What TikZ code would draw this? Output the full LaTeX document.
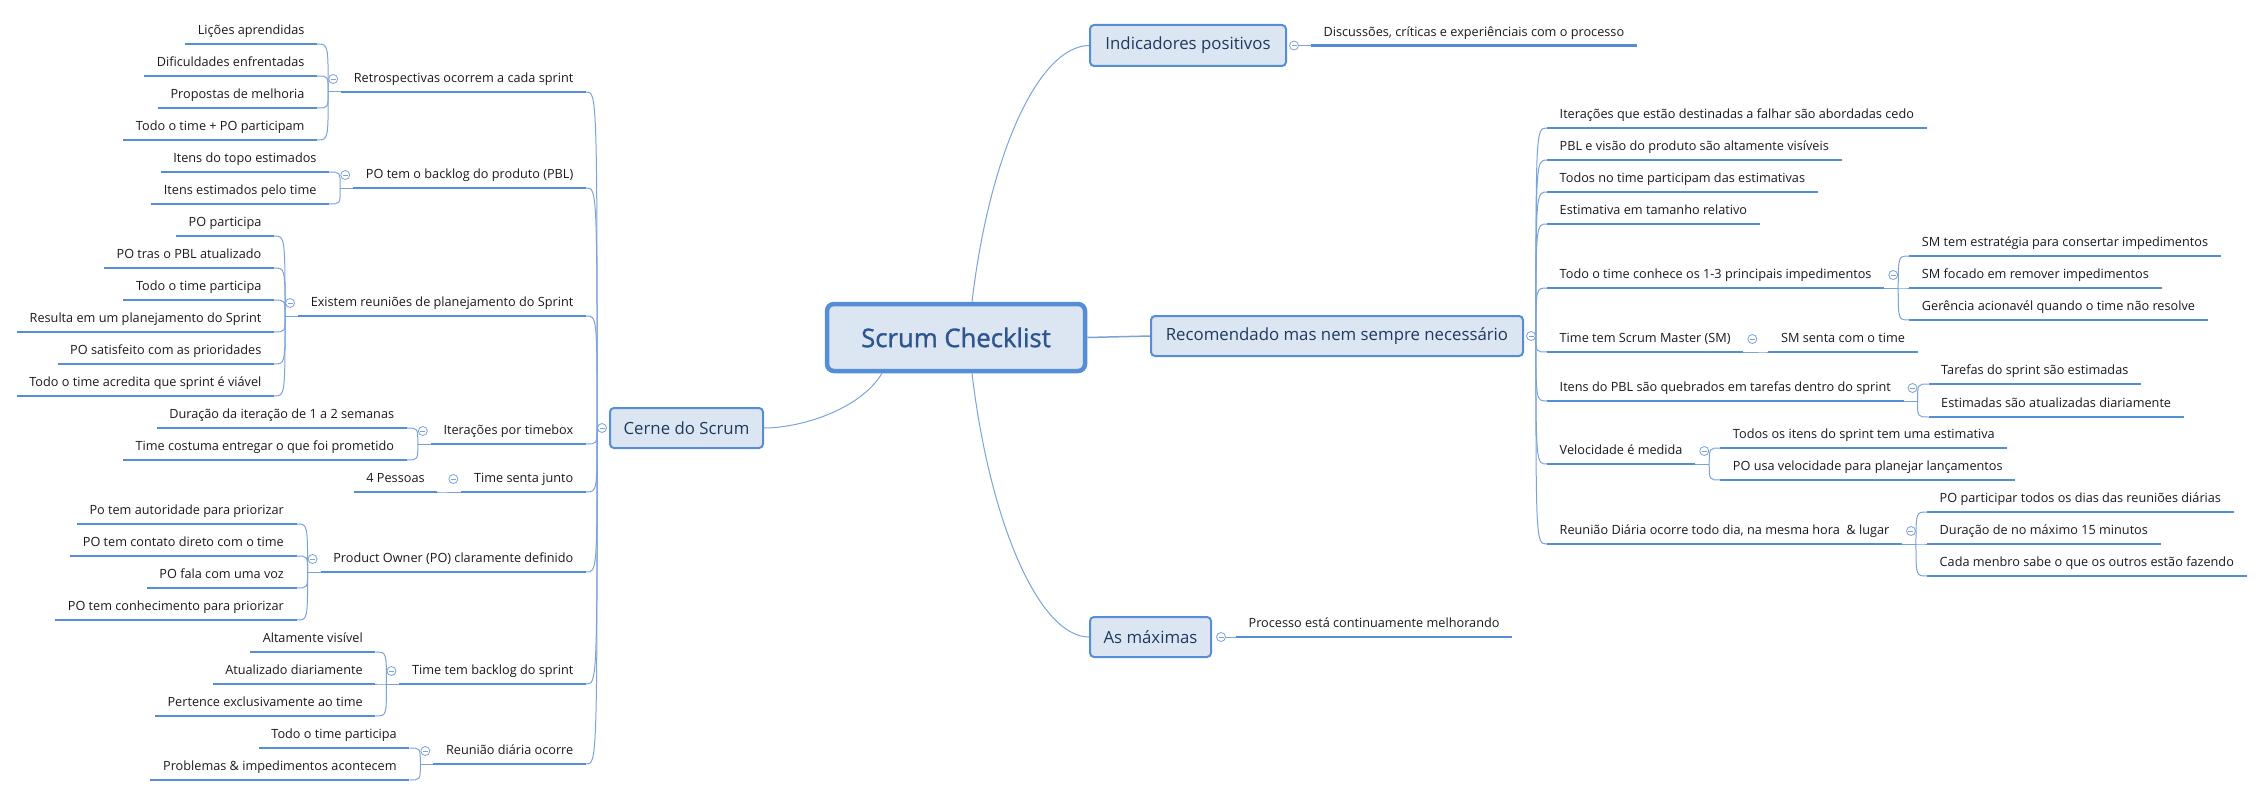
\documentclass[tikz,border=0pt]{standalone}
\usepackage{fontspec}
\setmainfont{Open Sans}
\newfontfamily\rootfamily[FakeBold=1.2]{Open Sans}
\usepackage{tikz}

\definecolor{mapblue}{HTML}{558ED5}
\definecolor{linkblue}{HTML}{7AA3DA}
\definecolor{topicfill}{HTML}{DCE6F2}
\definecolor{topicink}{HTML}{1F3A5F}
\definecolor{rootink}{HTML}{2D558F}
\definecolor{leafink}{HTML}{1A1A1A}

\newcommand{\leaffont}{\fontsize{12.7}{15}\selectfont}
\newcommand{\topicfont}{\fontsize{16.8}{20}\selectfont}
\newcommand{\rootfont}{\rootfamily\fontsize{25.7}{30}\selectfont}

\tikzset{
  uline/.style={draw=mapblue, line width=2.8pt},
  link/.style={draw=linkblue, line width=1pt},
  leaf/.style={font=\leaffont, text=leafink, inner xsep=12.5pt, inner ysep=0pt,
    text height=10pt, text depth=9pt,
    append after command={(\tikzlastnode.south west) edge[uline] (\tikzlastnode.south east)}},
  topic/.style={draw=mapblue, fill=topicfill, line width=2pt, rounded corners=4pt,
    font=\topicfont, text=topicink, minimum height=40pt},
  root/.style={draw=mapblue, fill=topicfill, line width=4.5pt, rounded corners=7pt,
    font=\rootfont, text=rootink, minimum width=258pt, minimum height=67pt},
  fold/.style={circle, draw=linkblue, fill=white, line width=0.8pt, minimum size=9pt, inner sep=0pt,
    path picture={\draw[linkblue, line width=0.8pt] ([xshift=-2.5pt]path picture bounding box.center)
      -- ([xshift=2.5pt]path picture bounding box.center);}},
}

\begin{document}
\begin{tikzpicture}[x=1pt, y=-1pt]
  \useasboundingbox (0,0) rectangle (2260,797);

  % Central topic and the four main branches
  \node[root] (root) at (956,337.5) {Scrum Checklist};
  \node[topic, minimum width=153pt] (cerne) at (686.5,428) {Cerne do Scrum};
  \node[topic, minimum width=196pt, minimum height=41pt] (indic) at (1188,45.5) {Indicadores positivos};
  \node[topic, minimum width=372pt] (recom) at (1337,336) {Recomendado mas nem sempre necessário};
  \node[topic, minimum width=121pt] (maximas) at (1150.5,637) {As máximas};

  \draw[link] ([xshift=16pt]root.north) .. controls (990,150) and (1040,46) .. (indic.west);
  \draw[link] ([xshift=16pt]root.south) .. controls (990,525) and (1040,637) .. (maximas.west);
  \draw[link] ([xshift=-74pt]root.south) .. controls (860,410) and (800,428) .. (cerne.east);
  \draw[link, line width=1.5pt] (root.east) -- (recom.west);

  % Cerne do Scrum: the branches on the left
  \node[fold] (cernefold) at ([xshift=-7pt]cerne.west) {};

  \node[leaf, anchor=south east] (retro) at (586,92) {Retrospectivas ocorrem a cada sprint};
  \coordinate (retroJ) at ([xshift=-13pt]retro.south west);
  \node[fold] (retrofold) at ([xshift=5pt,yshift=13pt]retroJ) {};
  \node[leaf, anchor=south east] (licoes) at ([xshift=-11pt,yshift=48pt]retroJ) {Lições aprendidas};
  \node[leaf, anchor=south east] (dific) at ([xshift=-11pt,yshift=16pt]retroJ) {Dificuldades enfrentadas};
  \node[leaf, anchor=south east] (propostas) at ([xshift=-11pt,yshift=-16pt]retroJ) {Propostas de melhoria};
  \node[leaf, anchor=south east] (todoPO) at ([xshift=-11pt,yshift=-48pt]retroJ) {Todo o time + PO participam};

  \node[leaf, anchor=south east] (pbl) at (586,188) {PO tem o backlog do produto (PBL)};
  \coordinate (pblJ) at ([xshift=-13pt]pbl.south west);
  \node[fold] (pblfold) at ([xshift=5pt,yshift=13pt]pblJ) {};
  \node[leaf, anchor=south east] (topo) at ([xshift=-11pt,yshift=16pt]pblJ) {Itens do topo estimados};
  \node[leaf, anchor=south east] (pelotime) at ([xshift=-11pt,yshift=-16pt]pblJ) {Itens estimados pelo time};

  \node[leaf, anchor=south east] (planej) at (586,316) {Existem reuniões de planejamento do Sprint};
  \coordinate (planejJ) at ([xshift=-13pt]planej.south west);
  \node[fold] (planejfold) at ([xshift=5pt,yshift=13pt]planejJ) {};
  \node[leaf, anchor=south east] (poPart) at ([xshift=-11pt,yshift=80pt]planejJ) {PO participa};
  \node[leaf, anchor=south east] (poTras) at ([xshift=-11pt,yshift=48pt]planejJ) {PO tras o PBL atualizado};
  \node[leaf, anchor=south east] (todoPart) at ([xshift=-11pt,yshift=16pt]planejJ) {Todo o time participa};
  \node[leaf, anchor=south east] (resulta) at ([xshift=-11pt,yshift=-16pt]planejJ) {Resulta em um planejamento do Sprint};
  \node[leaf, anchor=south east] (poSatisf) at ([xshift=-11pt,yshift=-48pt]planejJ) {PO satisfeito com as prioridades};
  \node[leaf, anchor=south east] (acredita) at ([xshift=-11pt,yshift=-80pt]planejJ) {Todo o time acredita que sprint é viável};

  \node[leaf, anchor=south east] (timebox) at (586,444) {Iterações por timebox};
  \coordinate (timeboxJ) at ([xshift=-13pt]timebox.south west);
  \node[fold] (timeboxfold) at ([xshift=5pt,yshift=13pt]timeboxJ) {};
  \node[leaf, anchor=south east] (duracao) at ([xshift=-11pt,yshift=16pt]timeboxJ) {Duração da iteração de 1 a 2 semanas};
  \node[leaf, anchor=south east] (costuma) at ([xshift=-11pt,yshift=-16pt]timeboxJ) {Time costuma entregar o que foi prometido};

  \node[leaf, anchor=south east] (junto) at (586,492) {Time senta junto};
  \coordinate (juntoJ) at ([xshift=-13pt]junto.south west);
  \node[fold] (juntofold) at ([xshift=5pt,yshift=13pt]juntoJ) {};
  \node[leaf, anchor=south east] (pessoas) at ([xshift=-11pt]juntoJ) {4 Pessoas};

  \node[leaf, anchor=south east] (owner) at (586,572) {Product Owner (PO) claramente definido};
  \coordinate (ownerJ) at ([xshift=-13pt]owner.south west);
  \node[fold] (ownerfold) at ([xshift=5pt,yshift=13pt]ownerJ) {};
  \node[leaf, anchor=south east] (autoridade) at ([xshift=-11pt,yshift=48pt]ownerJ) {Po tem autoridade para priorizar};
  \node[leaf, anchor=south east] (contato) at ([xshift=-11pt,yshift=16pt]ownerJ) {PO tem contato direto com o time};
  \node[leaf, anchor=south east] (voz) at ([xshift=-11pt,yshift=-16pt]ownerJ) {PO fala com uma voz};
  \node[leaf, anchor=south east] (conhec) at ([xshift=-11pt,yshift=-48pt]ownerJ) {PO tem conhecimento para priorizar};

  \node[leaf, anchor=south east] (sbacklog) at (586,684) {Time tem backlog do sprint};
  \coordinate (sbacklogJ) at ([xshift=-13pt]sbacklog.south west);
  \node[fold] (sbacklogfold) at ([xshift=5pt,yshift=13pt]sbacklogJ) {};
  \node[leaf, anchor=south east] (visivel) at ([xshift=-11pt,yshift=32pt]sbacklogJ) {Altamente visível};
  \node[leaf, anchor=south east] (atualiz) at ([xshift=-11pt]sbacklogJ) {Atualizado diariamente};
  \node[leaf, anchor=south east] (pertence) at ([xshift=-11pt,yshift=-32pt]sbacklogJ) {Pertence exclusivamente ao time};

  \node[leaf, anchor=south east] (daily) at (586,764) {Reunião diária ocorre};
  \coordinate (dailyJ) at ([xshift=-13pt]daily.south west);
  \node[fold] (dailyfold) at ([xshift=5pt,yshift=13pt]dailyJ) {};
  \node[leaf, anchor=south east] (dailyTodo) at ([xshift=-11pt,yshift=16pt]dailyJ) {Todo o time participa};
  \node[leaf, anchor=south east] (problemas) at ([xshift=-11pt,yshift=-16pt]dailyJ) {Problemas \& impedimentos acontecem};

  \foreach \p in {retro,pbl,planej,timebox,junto,owner,sbacklog,daily}
    \draw[link] (cernefold.west) .. controls (cernefold.west |- \p.south east) .. (\p.south east);
  \foreach \p/\c in {retro/licoes,retro/dific,retro/propostas,retro/todoPO,pbl/topo,pbl/pelotime,
      planej/poPart,planej/poTras,planej/todoPart,planej/resulta,planej/poSatisf,planej/acredita,
      timebox/duracao,timebox/costuma,junto/pessoas,owner/autoridade,owner/contato,owner/voz,owner/conhec,
      sbacklog/visivel,sbacklog/atualiz,sbacklog/pertence,daily/dailyTodo,daily/problemas}
    \draw[link] (\p J) .. controls (\p J |- \c.south east) .. (\c.south east);
  \foreach \p in {retro,pbl,planej,timebox,junto,owner,sbacklog,daily}
    \draw[link] (\p J) -- (\p.south west);

  % Indicadores positivos
  \node[fold] (indicfold) at ([xshift=7pt]indic.east) {};
  \node[leaf, anchor=south west] (discuss) at ([xshift=12pt]indicfold.east) {Discussões, críticas e experiênciais com o processo};
  \draw[link] (indicfold.east) -- (discuss.south west);

  % Recomendado mas nem sempre necessario
  \node[fold] (recomfold) at ([xshift=7pt]recom.east) {};
  \node[leaf, anchor=south west] (falhar) at (1547,128) {Iterações que estão destinadas a falhar são abordadas cedo};
  \node[leaf, anchor=south west] (visiveis) at (1547,160) {PBL e visão do produto são altamente visíveis};
  \node[leaf, anchor=south west] (estimativas) at (1547,192) {Todos no time participam das estimativas};
  \node[leaf, anchor=south west] (relativo) at (1547,224) {Estimativa em tamanho relativo};
  \node[leaf, anchor=south west] (impedim) at (1547,288) {Todo o time conhece os 1-3 principais impedimentos};
  \node[leaf, anchor=south west] (master) at (1547,352) {Time tem Scrum Master (SM)};
  \node[leaf, anchor=south west] (quebrados) at (1547,401) {Itens do PBL são quebrados em tarefas dentro do sprint};
  \node[leaf, anchor=south west] (veloc) at (1547,464) {Velocidade é medida};
  \node[leaf, anchor=south west] (diaria) at (1547,544) {Reunião Diária ocorre todo dia, na mesma hora\ \ \& lugar};

  \foreach \c in {falhar,visiveis,estimativas,relativo,impedim,master,quebrados,veloc,diaria}
    \draw[link] (recomfold.east) .. controls (recomfold.east |- \c.south west) .. (\c.south west);

  \coordinate (impedimJ) at ([xshift=14pt]impedim.south east);
  \node[fold] (impedimfold) at ([xshift=-5pt,yshift=13pt]impedimJ) {};
  \node[leaf, anchor=south west] (estrategia) at ([xshift=11pt,yshift=32pt]impedimJ) {SM tem estratégia para consertar impedimentos};
  \node[leaf, anchor=south west] (focado) at ([xshift=11pt]impedimJ) {SM focado em remover impedimentos};
  \node[leaf, anchor=south west] (gerencia) at ([xshift=11pt,yshift=-32pt]impedimJ) {Gerência acionavél quando o time não resolve};

  \coordinate (masterJ) at ([xshift=14pt]master.south east);
  \node[fold] (masterfold) at ([xshift=-5pt,yshift=13pt]masterJ) {};
  \node[leaf, anchor=south west] (senta) at ([xshift=11pt]masterJ) {SM senta com o time};

  \coordinate (quebradosJ) at ([xshift=14pt]quebrados.south east);
  \node[fold] (quebradosfold) at ([xshift=-5pt,yshift=13pt]quebradosJ) {};
  \node[leaf, anchor=south west] (tarefas) at ([xshift=11pt,yshift=17pt]quebradosJ) {Tarefas do sprint são estimadas};
  \node[leaf, anchor=south west] (atualizadas) at ([xshift=11pt,yshift=-16pt]quebradosJ) {Estimadas são atualizadas diariamente};

  \coordinate (velocJ) at ([xshift=14pt]veloc.south east);
  \node[fold] (velocfold) at ([xshift=-5pt,yshift=13pt]velocJ) {};
  \node[leaf, anchor=south west] (todosItens) at ([xshift=11pt,yshift=16pt]velocJ) {Todos os itens do sprint tem uma estimativa};
  \node[leaf, anchor=south west] (usaVeloc) at ([xshift=11pt,yshift=-16pt]velocJ) {PO usa velocidade para planejar lançamentos};

  \coordinate (diariaJ) at ([xshift=14pt]diaria.south east);
  \node[fold] (diariafold) at ([xshift=-5pt,yshift=13pt]diariaJ) {};
  \node[leaf, anchor=south west] (poDias) at ([xshift=11pt,yshift=32pt]diariaJ) {PO participar todos os dias das reuniões diárias};
  \node[leaf, anchor=south west] (quinze) at ([xshift=11pt]diariaJ) {Duração de no máximo 15 minutos};
  \node[leaf, anchor=south west] (menbro) at ([xshift=11pt,yshift=-32pt]diariaJ) {Cada menbro sabe o que os outros estão fazendo};

  \foreach \p/\c in {impedim/estrategia,impedim/focado,impedim/gerencia,master/senta,
      quebrados/tarefas,quebrados/atualizadas,veloc/todosItens,veloc/usaVeloc,
      diaria/poDias,diaria/quinze,diaria/menbro}
    \draw[link] (\p J) .. controls (\p J |- \c.south west) .. (\c.south west);
  \foreach \p in {impedim,master,quebrados,veloc,diaria}
    \draw[link] (\p.south east) -- (\p J);

  % As maximas
  \node[fold] (maximasfold) at ([xshift=9pt]maximas.east) {};
  \node[leaf, anchor=south west] (melhorando) at ([xshift=10pt]maximasfold.east) {Processo está continuamente melhorando};
  \draw[link] (maximasfold.east) -- (melhorando.south west);
\end{tikzpicture}
\end{document}
